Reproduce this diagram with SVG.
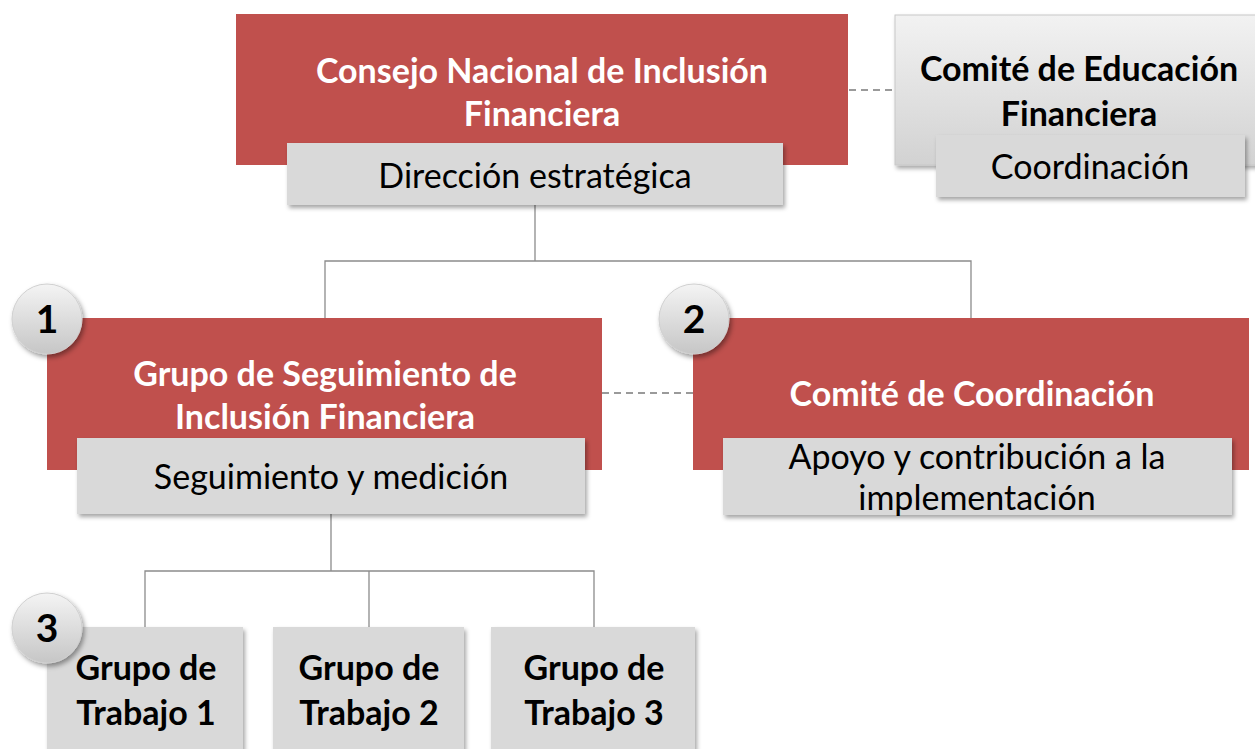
<svg xmlns="http://www.w3.org/2000/svg" width="1255" height="749" viewBox="0 0 1255 749">
<defs>
<filter id="sh" x="-10%" y="-10%" width="130%" height="140%">
<feDropShadow dx="2" dy="3" stdDeviation="2" flood-color="#000" flood-opacity="0.35"/>
</filter>
<filter id="shc" x="-30%" y="-30%" width="170%" height="170%">
<feDropShadow dx="2" dy="3" stdDeviation="2.5" flood-color="#000" flood-opacity="0.4"/>
</filter>
<linearGradient id="gEdu" x1="0" y1="0" x2="0" y2="1">
<stop offset="0" stop-color="#F2F2F2"/>
<stop offset="1" stop-color="#D2D2D2"/>
</linearGradient>
<linearGradient id="gCirc" x1="0" y1="0" x2="0" y2="1">
<stop offset="0" stop-color="#F4F4F4"/>
<stop offset="1" stop-color="#C6C6C6"/>
</linearGradient>
</defs>
<style>
.red{fill:#C0504D;}
.gray{fill:#D9D9D9;}
.ln{stroke:#8C8C8C;stroke-width:1.3;fill:none;}
.dash{stroke:#9A9A9A;stroke-width:2;stroke-dasharray:7 5;fill:none;}
text{font-family:Lato,"Open Sans","Liberation Sans",sans-serif;text-anchor:middle;}
.wb{fill:#FFFFFF;font-weight:bold;font-size:34px;}
.kb{fill:#000000;font-weight:bold;font-size:34px;}
.kn{fill:#000000;font-size:34px;}
.num{fill:#000000;font-weight:bold;font-size:39px;}
</style>
<rect width="1255" height="749" fill="#FFFFFF"/>
<g id="connectors">
<path class="ln" d="M535 205 V261 M325 318 V261 H971 V318"/>
<path class="ln" d="M331 514 V571 M145 627 V571 H594 V627 M369 571 V627"/>
<path class="dash" d="M849 90 H895"/>
<path class="dash" d="M602 393 H693"/>
</g>
<g id="consejo">
<rect class="red" x="236" y="14" width="612" height="151"/>
<text class="wb" x="542" y="83">Consejo Nacional de Inclusión</text>
<text class="wb" x="542" y="126">Financiera</text>
</g>
<g id="direccion">
<rect class="gray" x="287" y="143" width="496" height="62" filter="url(#sh)"/>
<text class="kn" x="535" y="188">Dirección estratégica</text>
</g>
<g id="comite-educacion">
<rect x="895" y="15" width="365" height="150" fill="url(#gEdu)" stroke="#C8C8C8" stroke-width="1" filter="url(#sh)"/>
<text class="kb" x="1079" y="81">Comité de Educación</text>
<text class="kb" x="1079" y="126">Financiera</text>
</g>
<g id="coordinacion">
<rect class="gray" x="936" y="135" width="309" height="62" filter="url(#sh)"/>
<text class="kn" x="1090" y="179">Coordinación</text>
</g>
<g id="grupo-seguimiento">
<rect class="red" x="47" y="318" width="555" height="152"/>
<text class="wb" x="325" y="386">Grupo de Seguimiento de</text>
<text class="wb" x="325" y="429">Inclusión Financiera</text>
</g>
<g id="seguimiento">
<rect class="gray" x="77" y="438" width="508" height="76" filter="url(#sh)"/>
<text class="kn" x="331" y="489">Seguimiento y medición</text>
</g>
<g id="comite-coordinacion">
<rect class="red" x="693" y="318" width="556" height="152"/>
<text class="wb" x="972" y="406">Comité de Coordinación</text>
</g>
<g id="apoyo">
<rect class="gray" x="723" y="438" width="509" height="77" filter="url(#sh)"/>
<text class="kn" x="977" y="469">Apoyo y contribución a la</text>
<text class="kn" x="977" y="510">implementación</text>
</g>
<g id="trabajo1">
<rect class="gray" x="47" y="627" width="196" height="130" filter="url(#sh)"/>
<text class="kb" x="146" y="680">Grupo de</text>
<text class="kb" x="146" y="725">Trabajo 1</text>
</g>
<g id="trabajo2">
<rect class="gray" x="273" y="627" width="191" height="130" filter="url(#sh)"/>
<text class="kb" x="369" y="680">Grupo de</text>
<text class="kb" x="369" y="725">Trabajo 2</text>
</g>
<g id="trabajo3">
<rect class="gray" x="491" y="627" width="204" height="130" filter="url(#sh)"/>
<text class="kb" x="594" y="680">Grupo de</text>
<text class="kb" x="594" y="725">Trabajo 3</text>
</g>
<g id="badge1">
<circle cx="47" cy="319" r="35" fill="url(#gCirc)" stroke="#D0D0D0" stroke-width="1" filter="url(#shc)"/>
<text class="num" x="47" y="333">1</text>
</g>
<g id="badge2">
<circle cx="694" cy="319" r="35" fill="url(#gCirc)" stroke="#D0D0D0" stroke-width="1" filter="url(#shc)"/>
<text class="num" x="694" y="333">2</text>
</g>
<g id="badge3">
<circle cx="47" cy="628" r="35" fill="url(#gCirc)" stroke="#D0D0D0" stroke-width="1" filter="url(#shc)"/>
<text class="num" x="47" y="642">3</text>
</g>
</svg>
